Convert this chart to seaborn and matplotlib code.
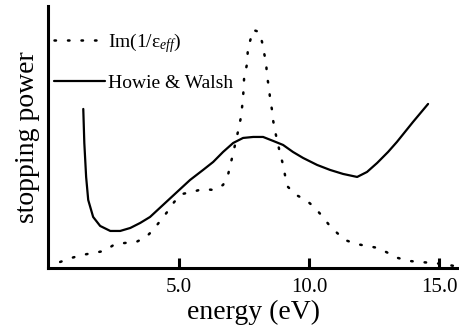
import matplotlib
matplotlib.use("Agg")
import matplotlib.pyplot as plt
import seaborn as sns
import pandas as pd

# Im(1/eps_eff) dotted curve: energy (eV), relative stopping power
im_energy = [0.42, 0.85, 1.27, 1.69, 2.12, 2.54, 2.92, 3.35, 3.73, 4.00, 4.27, 4.54,
             4.81, 5.12, 5.50, 5.92, 6.31, 6.69, 6.88, 7.08, 7.27, 7.38, 7.46, 7.50,
             7.62, 7.65, 7.73, 7.85, 8.08, 8.19, 8.27, 8.35, 8.38, 8.46, 8.50, 8.58,
             8.62, 8.69, 8.88, 9.00, 9.08, 9.19, 9.50, 9.88, 10.19, 10.50, 10.77,
             11.08, 11.38, 11.81, 12.23, 12.65, 13.04, 13.42, 13.85, 14.27, 14.73,
             15.15, 15.58]
im_value = [6, 10, 13, 15, 17, 24, 25, 26, 31, 38, 47, 56,
            66, 74, 76, 79, 78, 83, 93, 115, 137, 151, 170, 190,
            205, 223, 227, 238, 236, 226, 215, 204, 192, 180, 169, 157,
            147, 137, 115, 103, 92, 81, 73, 68, 61, 52, 43,
            35, 28, 24, 22, 20, 15, 10, 7, 6, 5,
            4, 2]

# Howie & Walsh solid curve
hw_energy = [1.31, 1.35, 1.42, 1.50, 1.69, 1.96, 2.35, 2.73, 3.12, 3.50, 3.88, 4.92,
             5.42, 5.92, 6.31, 6.69, 7.08, 7.46, 7.85, 8.23, 8.62, 9.00, 9.38, 9.77,
             10.31, 10.81, 11.31, 11.85, 12.23, 12.62, 13.04, 13.38, 14.00, 14.58]
hw_value = [159, 125, 91, 68, 51, 42, 37, 37, 40, 45, 51, 76,
            88, 98, 106, 116, 125, 130, 131, 131, 127, 123, 116, 110,
            103, 98, 94, 91, 96, 105, 116, 126, 146, 164]

xticks = [5.0, 10.0, 15.0]
xtick_labels = ["5.0", "10.0", "15.0"]

sns.set_theme(style="white")
plt.rcParams["font.family"] = ["Liberation Serif", "DejaVu Serif"]
plt.rcParams["mathtext.fontset"] = "custom"
plt.rcParams["mathtext.rm"] = "Liberation Serif"
plt.rcParams["mathtext.it"] = "Liberation Serif:italic"

df_im = pd.DataFrame({"energy": im_energy, "value": im_value})
df_hw = pd.DataFrame({"energy": hw_energy, "value": hw_value})

fig = plt.figure(figsize=(4.59, 3.30), dpi=100)
ax = fig.add_axes([0.105, 0.188, 0.895, 0.794])

sns.lineplot(data=df_im, x="energy", y="value", ax=ax, sort=False, color="black",
             linewidth=1.8, linestyle=(0, (0.6, 4.8)), dash_capstyle="round",
             label=r"Im(1/$\mathrm{\varepsilon}_{eff}$)")
sns.lineplot(data=df_hw, x="energy", y="value", ax=ax, sort=False, color="black",
             linewidth=1.6, label="Howie & Walsh")

ax.set_xlim(-0.04, 15.77)
ax.set_ylim(0, 262)
ax.set_xticks(xticks)
ax.set_xticklabels(xtick_labels)
ax.set_yticks([])
ax.tick_params(axis="x", direction="in", length=7, width=2.2, labelsize=15,
               pad=7, colors="black", bottom=True)
for side in ["top", "right"]:
    ax.spines[side].set_visible(False)
for side in ["left", "bottom"]:
    ax.spines[side].set_color("black")
    ax.spines[side].set_linewidth(2.2)

ax.set_xlabel("energy (eV)", fontsize=20, labelpad=2, color="black")
ax.set_ylabel("stopping power", fontsize=20, labelpad=6, color="black")

leg = ax.legend(loc="upper left", bbox_to_anchor=(0.015, 0.905), frameon=False,
                fontsize=14, handlelength=2.6, handletextpad=0.15,
                labelspacing=1.0, borderpad=0, borderaxespad=0)
for t in leg.get_texts():
    t.set_color("black")

fig.savefig("out.png", dpi=100)
